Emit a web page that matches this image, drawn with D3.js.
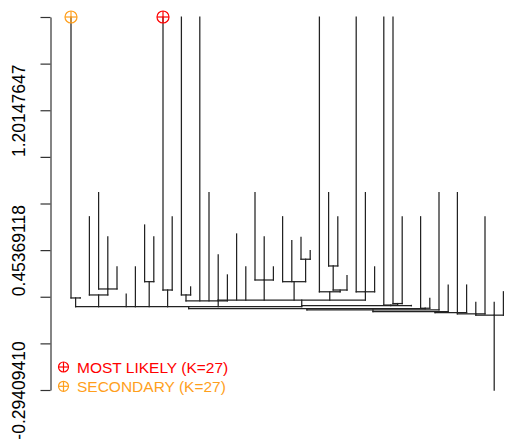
<!DOCTYPE html>
<html>
<head>
<meta charset="utf-8">
<script src="https://cdn.jsdelivr.net/npm/d3@7"></script>
<style>
  body { margin: 0; background: #fff; }
  svg { display: block; }
</style>
</head>
<body>
<div id="chart"></div>
<script>
// leaf heights, in leaf order (48 leaves)
const leafHeight = [
  1.700, 0.198, 0.632, 0.761, 0.524, 0.364, 0.219, 0.364, 0.588, 0.524,
  1.700, 0.632, 1.700, 0.257, 1.700, 0.761, 0.428, 0.321, 0.540, 0.364,
  0.761, 0.524, 0.364, 0.632, 0.504, 0.522, 0.451, 1.700, 0.761, 0.632,
  0.317, 1.700, 0.761, 0.364, 1.700, 1.700, 0.632, 0.158, 0.632, 0.196,
  0.761, 0.267, 0.761, 0.267, 0.175, 0.632, 0.175, 0.231
];

// merges (children before parents). kids: numbers = leaves, strings = merges
const nodeName   = ["N1", "N2", "N3", "N4", "N5", "N6", "G", "N7", "N11", "N8",
                    "N12", "N13", "N9", "N10", "F", "N14b", "N14", "Q", "L1", "N15",
                    "L2", "L3", "L4", "L5", "L6", "L7", "ROOT"];
const nodeHeight = [0.198, 0.246, 0.214, 0.285, 0.2405, 0.214, 0.183, 0.294, 0.405, 0.285,
                    0.369, 0.2405, 0.231, 0.231, 0.187, 0.168, 0.160, 0.157, 0.151, 0.143,
                    0.141, 0.134, 0.125, 0.119, 0.113, 0.106, -0.29409410];
const nodeKids = [
  [0, 1], [3, 4, 5], [2, "N2"], [8, 9], [10, 11], [12, 13], ["N6", 14, 15, 17],
  [20, 21, 22], [25, 26], [23, 24, "N11"], [28, 29], ["N12", 30], [27, "N13"],
  [31, 32, 33], ["G", 18, 19, "N7", "N8", "N9", "N10"], [35, 36], [34, "N14b"],
  ["F", "N14", 37], ["N1", "N3", 6, 7, "N4", "N5", 16, "Q"], [38, 39],
  ["L1", "N15"], ["L2", 40], ["L3", 41], ["L4", 42, 43], ["L5", 44, 45],
  ["L6", 46, 47], ["L7"]
];
// joint position (leaf units) where it is not centred on its span
const nodePos = [null, null, null, null, null, null, 16, null, null, null,
                 null, null, null, null, 25.08, null, null, 25.08, null, null,
                 null, null, 39.57, 42, 44, 46, null];

const yTicks = [-0.29409410, -0.04483234, 0.20442942, 0.45369118, 0.70295294,
                0.95221470, 1.20147647, 1.45073823, 1.70000000];
const yTickLabels = ["-0.29409410", "", "", "0.45369118", "", "", "1.20147647", "", ""];

const legendLabels = ["MOST LIKELY (K=27)", "SECONDARY (K=27)"];
const legendColors = ["#ff0000", "#ff9f1c"];
const markedLeaves = [10, 0];

const width = 505, height = 443;

const svg = d3.select("#chart")
  .append("svg")
  .attr("width", width)
  .attr("height", height);

const x = d3.scaleLinear()
  .domain([0, leafHeight.length - 1])
  .range([71, 503.4]);

const y = d3.scaleLinear()
  .domain([-0.29409410, 1.7])
  .range([390, 17]);

// resolve positions
const nodes = {};
nodeName.forEach((n, i) => {
  nodes[n] = {h: nodeHeight[i], kids: nodeKids[i], pos: nodePos[i]};
});
function kidPos(k) {
  return typeof k === "number" ? k : nodes[k].pos;
}
function kidHeight(k) {
  return typeof k === "number" ? leafHeight[k] : nodes[k].h;
}
nodeName.forEach(n => {
  const nd = nodes[n];
  const ps = nd.kids.map(kidPos);
  nd.lo = d3.min(ps);
  nd.hi = d3.max(ps);
  if (nd.pos == null) nd.pos = (nd.lo + nd.hi) / 2;
});

// segments
const segs = [];
nodeName.forEach(n => {
  const nd = nodes[n];
  if (nd.hi > nd.lo) segs.push([nd.lo, nd.h, nd.hi, nd.h]);
  nd.kids.forEach(k => {
    segs.push([kidPos(k), kidHeight(k), kidPos(k), nd.h]);
  });
});

svg.append("g")
  .selectAll("line")
  .data(segs)
  .join("line")
  .attr("x1", d => x(d[0]))
  .attr("y1", d => y(d[1]))
  .attr("x2", d => x(d[2]))
  .attr("y2", d => y(d[3]))
  .attr("stroke", "#222")
  .attr("stroke-width", 1.25)
  .attr("stroke-linecap", "square");

// y axis
const yAxis = d3.axisLeft(y)
  .tickValues(yTicks)
  .tickFormat((d, i) => yTickLabels[i])
  .tickSize(10)
  .tickSizeOuter(0);

const yAxisGroup = svg.append("g")
  .attr("transform", "translate(50.5,0)")
  .call(yAxis);

yAxisGroup.select(".domain").attr("stroke", "#333").attr("stroke-width", 1.2);
yAxisGroup.selectAll(".tick line").attr("stroke", "#333").attr("stroke-width", 1.2);
yAxisGroup.selectAll(".tick text")
  .attr("x", null)
  .attr("dy", null)
  .attr("transform", "translate(-25.5,0) rotate(-90)")
  .attr("text-anchor", "middle")
  .attr("fill", "#000")
  .style("font-family", "'Liberation Sans', Arial, sans-serif")
  .style("font-size", "17.5px");

// crosshair-circle markers
function marker(g, cx, cy, r, col) {
  g.append("circle")
    .attr("cx", cx).attr("cy", cy).attr("r", r)
    .attr("fill", "none").attr("stroke", col).attr("stroke-width", 1.2);
  g.append("line")
    .attr("x1", cx - r).attr("x2", cx + r).attr("y1", cy).attr("y2", cy)
    .attr("stroke", col).attr("stroke-width", 1.2);
  g.append("line")
    .attr("x1", cx).attr("x2", cx).attr("y1", cy - r).attr("y2", cy + r)
    .attr("stroke", col).attr("stroke-width", 1.2);
}

const markG = svg.append("g");
markedLeaves.forEach((leaf, i) => {
  marker(markG, x(leaf), y(leafHeight[leaf]), 6, legendColors[i]);
});

// legend
const legend = svg.append("g");
legendLabels.forEach((lab, i) => {
  const ly = 367 + i * 19.3;
  marker(legend, 63.5, ly, 5, legendColors[i]);
  legend.append("text")
    .attr("x", 77)
    .attr("y", ly + 5.5)
    .attr("fill", legendColors[i])
    .style("font-family", "'Liberation Sans', Arial, sans-serif")
    .style("font-size", "15.5px")
    .text(lab);
});
</script>
</body>
</html>
